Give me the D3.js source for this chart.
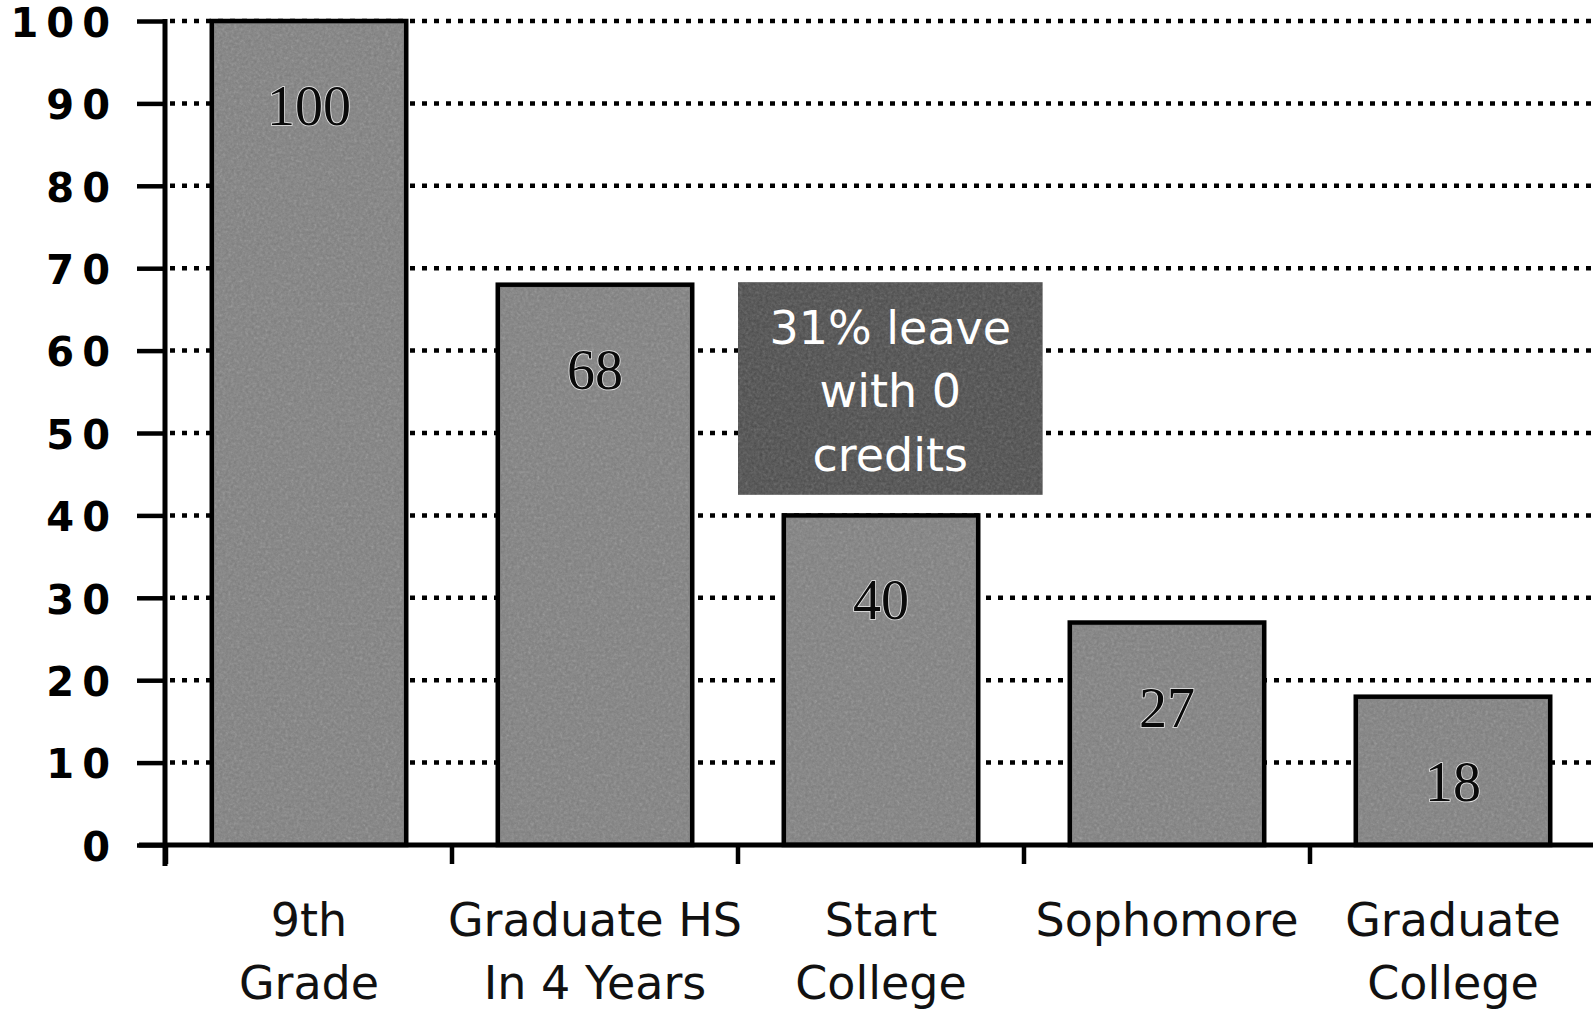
<!DOCTYPE html>
<html>
<head>
<meta charset="utf-8">
<script src="https://cdn.jsdelivr.net/npm/d3@7"></script>
<style>
  html, body { margin: 0; padding: 0; background: #fff; }
  svg { display: block; }
</style>
</head>
<body>
<svg id="chart" width="1593" height="1010"></svg>
<script>
// ---- data ----
const categories = ["9th Grade", "Graduate HS In 4 Years", "Start College", "Sophomore", "Graduate College"];
const categoryLines = [["9th", "Grade"], ["Graduate HS", "In 4 Years"], ["Start", "College"], ["Sophomore"], ["Graduate", "College"]];
const values = [100, 68, 40, 27, 18];
const yTickValues = [0, 10, 20, 30, 40, 50, 60, 70, 80, 90, 100];
const gridValues = [10, 20, 30, 40, 50, 60, 70, 80, 90, 100];
const annotationLines = ["31% leave", "with 0", "credits"];
const annotationRange = [68.3, 42.5];

// ---- layout ----
const svg = d3.select("#chart");
const W = 1593;
const x = d3.scaleBand().domain(categories).range([166, 1596]).paddingInner(0.32).paddingOuter(0.16);
const y = d3.scaleLinear().domain([0, 100]).range([845, 21]);
const step = x.step();

// texture filter
const defs = svg.append("defs");
const f = defs.append("filter").attr("id", "grain").attr("x", 0).attr("y", 0).attr("width", 1).attr("height", 1);
f.append("feTurbulence").attr("type", "fractalNoise").attr("baseFrequency", 0.35).attr("numOctaves", 3).attr("seed", 4);
f.append("feColorMatrix").attr("type", "saturate").attr("values", 0);
f.append("feComposite").attr("in2", "SourceGraphic").attr("operator", "in");

// gridlines (dotted)
svg.append("g").selectAll("line").data(gridValues).join("line")
  .attr("x1", 170).attr("x2", W)
  .attr("y1", d => y(d)).attr("y2", d => y(d))
  .attr("stroke", "#000").attr("stroke-width", 4.5)
  .attr("stroke-dasharray", "5 7");

// y axis
const yAxis = d3.axisLeft(y).tickValues(yTickValues).tickSize(28).tickPadding(19).tickSizeOuter(0);
const gy = svg.append("g").attr("transform", "translate(165,0)").call(yAxis);
gy.select(".domain").remove();
gy.selectAll(".tick line").attr("stroke", "#000").attr("stroke-width", 4.5);
gy.selectAll(".tick text")
  .attr("font-family", "'DejaVu Sans', sans-serif")
  .attr("font-weight", "bold")
  .attr("font-size", 40)
  .attr("letter-spacing", 8)
  .attr("fill", "#000")
  .attr("dy", "0.38em");
svg.append("line").attr("x1", 165).attr("x2", 165).attr("y1", y(100) - 2).attr("y2", 866)
  .attr("stroke", "#000").attr("stroke-width", 5);

// bars
const bars = svg.append("g");
bars.selectAll("rect.bar").data(values).join("rect").attr("class", "bar")
  .attr("x", (d, i) => x(categories[i]))
  .attr("width", x.bandwidth())
  .attr("y", d => y(d))
  .attr("height", d => y(0) - y(d))
  .attr("fill", "#7e7e7e")
  .attr("stroke", "#000").attr("stroke-width", 4.5);
bars.selectAll("rect.tex").data(values).join("rect").attr("class", "tex")
  .attr("x", (d, i) => x(categories[i]) + 3)
  .attr("width", x.bandwidth() - 6)
  .attr("y", d => y(d) + 3)
  .attr("height", d => y(0) - y(d) - 6)
  .attr("fill", "#000")
  .attr("filter", "url(#grain)")
  .attr("opacity", 0.35);

// value labels
svg.append("g").selectAll("text").data(values).join("text")
  .attr("x", (d, i) => x(categories[i]) + x.bandwidth() / 2)
  .attr("y", d => y(d) + 104)
  .attr("text-anchor", "middle")
  .attr("font-family", "'Liberation Serif', serif")
  .attr("font-size", 56)
  .attr("fill", "#0a0a0a")
  .attr("stroke", "#e8e8e8").attr("stroke-width", 1.6).attr("paint-order", "stroke")
  .text(d => d);

// x axis
svg.append("line").attr("x1", 139).attr("x2", W).attr("y1", y(0)).attr("y2", y(0))
  .attr("stroke", "#000").attr("stroke-width", 5);
const boundaries = categories.map(c => x(c) - step * x.paddingInner() / 2);
svg.append("g").selectAll("line").data(boundaries).join("line")
  .attr("x1", d => d).attr("x2", d => d)
  .attr("y1", y(0)).attr("y2", y(0) + 19)
  .attr("stroke", "#000").attr("stroke-width", 4.5);

// category labels
const lab = svg.append("g").selectAll("text").data(categoryLines).join("text")
  .attr("text-anchor", "middle")
  .attr("font-family", "'DejaVu Sans', Verdana, sans-serif")
  .attr("font-size", 46)
  .attr("fill", "#111")
  .attr("x", (d, i) => x(categories[i]) + x.bandwidth() / 2);
lab.selectAll("tspan").data(d => d).join("tspan")
  .attr("x", function() { return d3.select(this.parentNode).attr("x"); })
  .attr("y", (d, j) => 936 + j * 63)
  .text(d => d);

// annotation box
const bx = x("Start College") - step * x.paddingInner() / 2;
const bw = step * 1.065;
const by = y(annotationRange[0]);
const bh = y(annotationRange[1]) - by;
svg.append("rect").attr("x", bx).attr("y", by).attr("width", bw).attr("height", bh)
  .attr("fill", "#4a4a4a");
svg.append("rect").attr("x", bx).attr("y", by).attr("width", bw).attr("height", bh)
  .attr("fill", "#000").attr("filter", "url(#grain)").attr("opacity", 0.3);
svg.append("g").selectAll("text").data(annotationLines).join("text")
  .attr("x", bx + bw / 2)
  .attr("y", (d, i) => by + 45 + i * 63.5)
  .attr("dy", "0.36em")
  .attr("text-anchor", "middle")
  .attr("font-family", "'DejaVu Sans', Verdana, sans-serif")
  .attr("font-size", 46)
  .attr("fill", "#fff")
  .text(d => d);
</script>
</body>
</html>
